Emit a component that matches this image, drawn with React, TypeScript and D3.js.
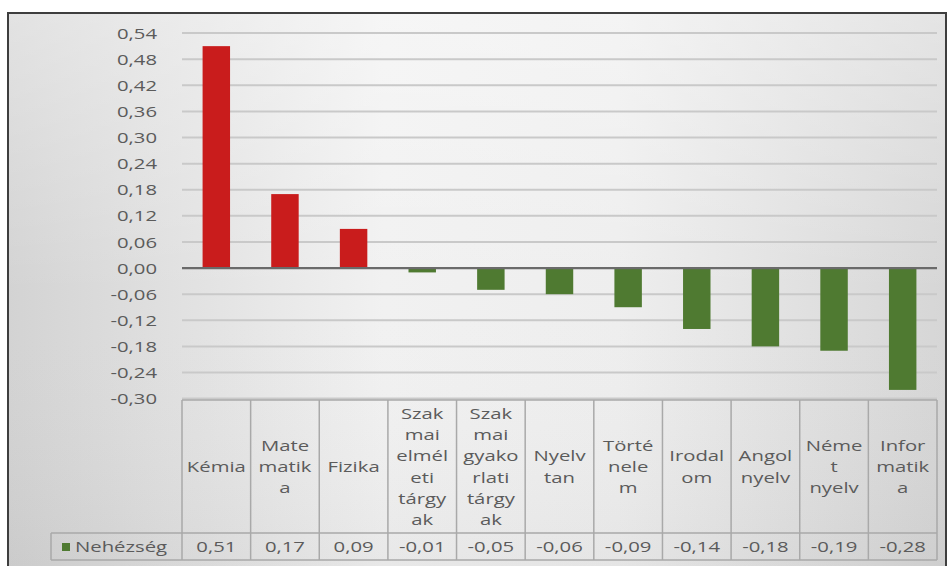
import React from "react";
import * as d3 from "d3";

const categories: string[] = [
  "Kémia", "Matematika", "Fizika", "Szakmai elméleti tárgyak", "Szakmai gyakorlati tárgyak",
  "Nyelvtan", "Történelem", "Irodalom", "Angol nyelv", "Német nyelv", "Informatika",
];
const categoryLines: string[][] = [
  ["Kémia"],
  ["Mate", "matik", "a"],
  ["Fizika"],
  ["Szak", "mai", "elmél", "eti", "tárgy", "ak"],
  ["Szak", "mai", "gyako", "rlati", "tárgy", "ak"],
  ["Nyelv", "tan"],
  ["Törté", "nele", "m"],
  ["Irodal", "om"],
  ["Angol", "nyelv"],
  ["Néme", "t", "nyelv"],
  ["Infor", "matik", "a"],
];
const values: number[] = [0.51, 0.17, 0.09, -0.01, -0.05, -0.06, -0.09, -0.14, -0.18, -0.19, -0.28];
const valueLabels: string[] = ["0,51", "0,17", "0,09", "-0,01", "-0,05", "-0,06", "-0,09", "-0,14", "-0,18", "-0,19", "-0,28"];
const yTicks: number[] = [0.54, 0.48, 0.42, 0.36, 0.3, 0.24, 0.18, 0.12, 0.06, 0, -0.06, -0.12, -0.18, -0.24, -0.3];
const seriesName = "Nehézség";

const W = 947;
const H = 566;
const plotLeft = 182;
const plotRight = 937;
const yTop = 33.1;
const yBottom = 398.6;
const tableTop = 400;
const rowTop = 533;
const tableBottom = 560;
const legendLeft = 51;
const SX = 1.45;
const textColor = "#5b5b5b";
const lineColor = "#a9a9a9";
const font = "'Open Sans', sans-serif";

const fmt = (v: number) => {
  const s = Math.abs(v).toFixed(2).replace(".", ",");
  return v < 0 ? "-" + s : s;
};

export default function App() {
  const y = d3.scaleLinear().domain([-0.3, 0.54]).range([yBottom, yTop]);
  const x = d3.scaleBand<string>().domain(categories).range([plotLeft, plotRight]).padding(0);
  const bw = x.bandwidth();
  const barW = bw * 0.4;

  const T = (props: { x: number; y: number; anchor?: string; children: React.ReactNode }) => (
    <text
      transform={`translate(${props.x},${props.y}) scale(${SX},1)`}
      textAnchor={props.anchor || "middle"}
      dominantBaseline="central"
      fontFamily={font}
      fontSize={14}
      fill={textColor}
    >
      {props.children}
    </text>
  );

  const midTable = (tableTop + rowTop) / 2;
  const lh = 21.3;

  return (
    <svg width={W} height={H} style={{ position: "absolute", left: 0, top: 0 }}>
      <defs>
        <linearGradient id="bg" x1="0" y1="0" x2="1" y2="0">
          <stop offset="0%" stopColor="#d3d3d3" />
          <stop offset="40%" stopColor="#f1f1f1" />
          <stop offset="65%" stopColor="#eeeeee" />
          <stop offset="100%" stopColor="#d6d6d6" />
        </linearGradient>
        <linearGradient id="bgv" x1="0" y1="0" x2="0" y2="1">
          <stop offset="0%" stopColor="#ffffff" stopOpacity={0.35} />
          <stop offset="50%" stopColor="#ffffff" stopOpacity={0} />
          <stop offset="100%" stopColor="#000000" stopOpacity={0.04} />
        </linearGradient>
      </defs>
      <rect x={0} y={0} width={W} height={H} fill="#ffffff" />
      <rect x={8} y={13} width={938} height={560} fill="url(#bg)" />
      <rect x={8} y={13} width={938} height={560} fill="url(#bgv)" />
      <rect x={8} y={13} width={938} height={560} fill="none" stroke="#3e3e3e" strokeWidth={2} />

      {/* gridlines */}
      {yTicks.filter((t) => t !== 0).map((t) => (
        <line key={t} x1={plotLeft} x2={plotRight} y1={y(t)} y2={y(t)} stroke="#c9c9c9" strokeWidth={2} />
      ))}

      {/* y labels */}
      {yTicks.map((t) => (
        <T key={"yl" + t} x={157} y={y(t)} anchor="end">{fmt(t)}</T>
      ))}

      {/* bars */}
      {values.map((v, i) => {
        const cx = (x(categories[i]) as number) + bw / 2;
        const y0 = y(0);
        const y1 = y(v);
        return (
          <rect
            key={"b" + i}
            x={cx - barW / 2}
            y={Math.min(y0, y1)}
            width={barW}
            height={Math.abs(y1 - y0)}
            fill={v >= 0 ? "#c91c1c" : "#4f7a31"}
          />
        );
      })}

      {/* zero line */}
      <line x1={plotLeft} x2={plotRight} y1={y(0)} y2={y(0)} stroke="#6a6a6a" strokeWidth={2.2} />

      {/* table */}
      <g stroke={lineColor} strokeWidth={1.5} fill="none">
        <line x1={plotLeft} x2={plotRight} y1={tableTop} y2={tableTop} />
        <line x1={legendLeft} x2={plotRight} y1={rowTop} y2={rowTop} />
        <line x1={legendLeft} x2={plotRight} y1={tableBottom} y2={tableBottom} />
        <line x1={legendLeft} x2={legendLeft} y1={rowTop} y2={tableBottom} />
        {categories.map((c) => (
          <line key={"v" + c} x1={x(c) as number} x2={x(c) as number} y1={tableTop} y2={tableBottom} />
        ))}
        <line x1={plotRight} x2={plotRight} y1={tableTop} y2={tableBottom} />
      </g>

      {/* category labels */}
      {categoryLines.map((lines, i) => {
        const cx = (x(categories[i]) as number) + bw / 2;
        const start = midTable - ((lines.length - 1) * lh) / 2;
        return lines.map((l, j) => (
          <T key={"c" + i + "-" + j} x={cx} y={start + j * lh}>{l}</T>
        ));
      })}

      {/* value row */}
      {valueLabels.map((v, i) => (
        <T key={"v" + i} x={(x(categories[i]) as number) + bw / 2} y={(rowTop + tableBottom) / 2}>{v}</T>
      ))}

      {/* legend */}
      <rect x={62} y={543} width={8} height={8} fill="#4f7a31" />
      <T x={75} y={(rowTop + tableBottom) / 2} anchor="start">{seriesName}</T>
    </svg>
  );
}
